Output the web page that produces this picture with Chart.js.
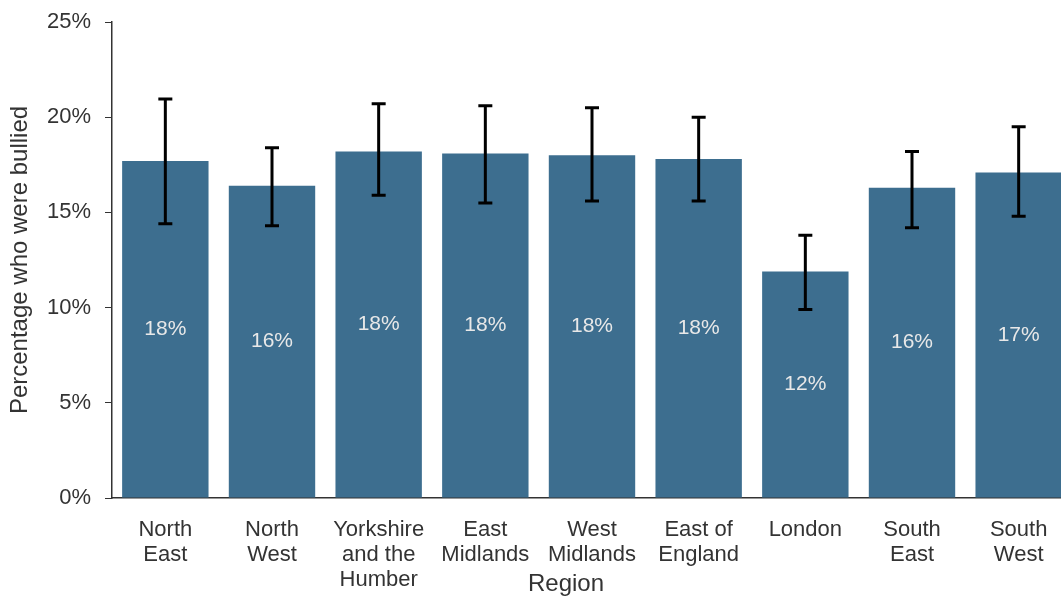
<!doctype html>
<html lang="en">
<head>
<meta charset="utf-8">
<title>Bullied by region</title>
<script src="https://cdn.jsdelivr.net/npm/chart.js@4.4.0/dist/chart.umd.min.js"></script>
<style>
  html, body { margin: 0; padding: 0; overflow: hidden; background: #fff; }
  #wrap { width: 1075px; height: 597px; }
</style>
</head>
<body>
<div id="wrap"><canvas id="bars"></canvas></div>
<script>
// regions along the x axis (multi-line labels)
var regions = [
  ['North', 'East'], ['North', 'West'], ['Yorkshire', 'and the', 'Humber'],
  ['East', 'Midlands'], ['West', 'Midlands'], ['East of', 'England'],
  ['London'], ['South', 'East'], ['South', 'West']
];
// percentage bullied, with lower / upper confidence limits
var pct   = [17.7, 16.4, 18.2, 18.1, 18.0, 17.8, 11.9, 16.3, 17.1];
var lower = [14.4, 14.3, 15.9, 15.5, 15.6, 15.6, 9.9, 14.2, 14.8];
var upper = [20.95, 18.4, 20.7, 20.6, 20.5, 20.0, 13.8, 18.2, 19.5];
var yTicks = [0, 5, 10, 15, 20, 25];

var font = 'Liberation Sans, Arial, sans-serif';
var ink = '#333333';

// error bars + value labels inside the bars
var extras = {
  id: 'extras',
  afterDatasetsDraw: function(chart) {
    var ctx = chart.ctx;
    var y = chart.scales.y;
    var meta = chart.getDatasetMeta(0);
    ctx.save();
    // value labels
    ctx.fillStyle = '#e8e8e8';
    ctx.font = '21px ' + font;
    ctx.textAlign = 'center';
    ctx.textBaseline = 'middle';
    meta.data.forEach(function(bar, i) {
      ctx.fillText(Math.round(pct[i]) + '%', bar.x, (bar.y + bar.base) / 2);
    });
    // error bars
    ctx.strokeStyle = '#000';
    ctx.lineWidth = 3;
    meta.data.forEach(function(bar, i) {
      var top = y.getPixelForValue(upper[i]);
      var bot = y.getPixelForValue(lower[i]);
      ctx.beginPath();
      ctx.moveTo(bar.x, top); ctx.lineTo(bar.x, bot);
      ctx.moveTo(bar.x - 7, top); ctx.lineTo(bar.x + 7, top);
      ctx.moveTo(bar.x - 7, bot); ctx.lineTo(bar.x + 7, bot);
      ctx.stroke();
    });
    // x axis title
    var a = chart.chartArea;
    ctx.fillStyle = ink;
    ctx.font = '24px ' + font;
    ctx.fillText('Region', (a.left + a.right) / 2 - 26, chart.height - 13);
    ctx.restore();
  }
};

new Chart(document.getElementById('bars').getContext('2d'), {
  type: 'bar',
  data: {
    labels: regions,
    datasets: [{
      data: pct,
      backgroundColor: '#3d6e8f',
      barPercentage: 0.9,
      categoryPercentage: 0.9
    }]
  },
  options: {
    responsive: true,
    maintainAspectRatio: false,
    animation: false,
    layout: { padding: { top: 22, right: 3, bottom: 7, left: 6 } },
    plugins: { legend: { display: false }, tooltip: { enabled: false } },
    scales: {
      x: {
        grid: { display: false },
        border: { display: true, color: ink, width: 1.5 },
        afterFit: function(s) { s.height = 92; },
        ticks: {
          color: ink, padding: 11, maxRotation: 0, autoSkip: false,
          font: { family: font, size: 22, lineHeight: 1.14 }
        }
      },
      y: {
        min: 0, max: 25,
        afterBuildTicks: function(s) { s.ticks = yTicks.map(function(v) { return { value: v }; }); },
        afterFit: function(s) { s.width = 106; s.paddingTop = 0; s.paddingBottom = 0; },
        grid: { drawOnChartArea: false, drawTicks: true, tickLength: 7, color: ink },
        border: { display: true, color: ink, width: 1.5 },
        ticks: {
          color: ink, padding: 14,
          font: { family: font, size: 22 },
          callback: function(v) { return v + '%'; }
        },
        title: {
          display: true, text: 'Percentage who were bullied', color: ink,
          font: { family: font, size: 24 }, padding: { top: 0, bottom: 6 }
        }
      }
    }
  },
  plugins: [extras]
});
</script>
</body>
</html>
